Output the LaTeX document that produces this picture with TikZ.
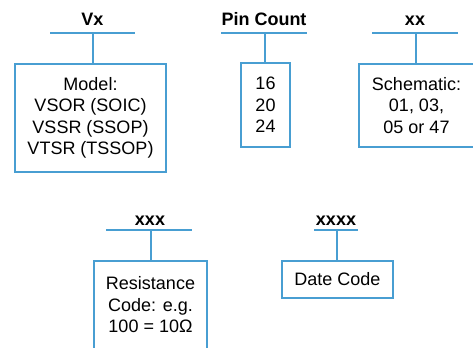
\documentclass[tikz,border=0pt]{standalone}
\usepackage{fontspec}
\setmainfont{Liberation Sans}
\definecolor{lineblue}{RGB}{72,158,210}
\begin{document}
\begin{tikzpicture}[x=0.75pt,y=-0.75pt,
  blueline/.style={draw=lineblue,line width=1.4pt},
  infobox/.style={blueline,rectangle,inner sep=0pt,align=center,
    font=\fontsize{13.5}{16.1}\selectfont},
  title/.style={font=\fontsize{13.5}{16}\selectfont\bfseries,inner sep=0pt,anchor=base}]
\useasboundingbox (0,0) rectangle (473,347);
\clip (0,0) rectangle (473,347);
\fill[white] (0,0) rectangle (473,347);
% titles
\node[title] (t1) at (92.5,25) {Vx};
\node[title] (t2) at (264,25) {Pin Count};
\node[title] (t3) at (415,25) {xx};
\node[title] (t4) at (150,225) {xxx};
\node[title] (t5) at (336,225) {xxxx};
% underlines
\draw[blueline] (50,33) -- (135,33);
\draw[blueline] (221,33) -- (307,33);
\draw[blueline] (372,33) -- (458,33);
\draw[blueline] (106,230) -- (192,230);
\draw[blueline] (314,230) -- (358,230);
\coordinate (u1) at (93,33);
\coordinate (u2) at (265,33);
\coordinate (u3) at (416,33);
\coordinate (u4) at (151,230);
\coordinate (u5) at (337,230);
% boxes
\node[infobox,minimum width=113.25pt,minimum height=81pt] (b1) at (90.5,118)
  {Model:\\VSOR (SOIC)\\VSSR (SSOP)\\VTSR (TSSOP)};
\node[infobox,minimum width=36.75pt,minimum height=63pt] (b2) at (265.5,105)
  {16\\20\\24};
\node[infobox,minimum width=86.25pt,minimum height=62.25pt] (b3) at (416.5,105.5)
  {Schematic:\\01, 03,\\05 or 47};
\node[infobox,minimum width=84.75pt,minimum height=66pt] (b4) at (150.5,305)
  {Resistance\\Code: e.g.\\100 = 10Ω};
\node[infobox,minimum width=83.25pt,minimum height=27.75pt] (b5) at (337.5,279.5)
  {Date Code};
% connectors
\draw[blueline] (u1) -- (u1 |- b1.north);
\draw[blueline] (u2) -- (u2 |- b2.north);
\draw[blueline] (u3) -- (u3 |- b3.north);
\draw[blueline] (u4) -- (u4 |- b4.north);
\draw[blueline] (u5) -- (u5 |- b5.north);
\end{tikzpicture}
\end{document}
